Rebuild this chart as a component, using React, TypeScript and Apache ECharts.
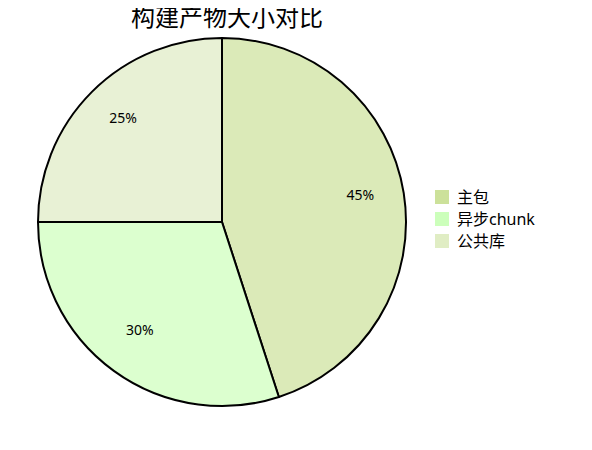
import React, { useEffect, useRef } from 'react';
import * as echarts from 'echarts';

const names = ['主包', '异步chunk', '公共库'];
const values = [45, 30, 25];
const legendColors = ['#cce19a', '#ccffbb', '#e0edc4'];
const sliceColors = ['#dbeab8', '#dcffcf', '#e8f1d5'];

const App = () => {
    const chartRef = useRef<HTMLDivElement>(null);

    useEffect(() => {
        const chartDom = chartRef.current;
        if (!chartDom) return;

        const myChart = echarts.init(chartDom, null, { renderer: 'svg' });
        const data = names.map((name, i) => ({
            name,
            value: values[i],
            itemStyle: { color: sliceColors[i] },
        }));

        const option = {
            animation: false,
            color: legendColors,
            textStyle: { fontFamily: '"Noto Sans", "Noto Sans CJK SC", sans-serif' },
            title: {
                text: '构建产物大小对比',
                left: 222,
                textAlign: 'center',
                top: -1,
                textStyle: { fontSize: 24, fontWeight: 'normal', color: '#000' },
            },
            legend: {
                orient: 'vertical',
                left: 430,
                top: 184,
                icon: 'rect',
                itemWidth: 14,
                itemHeight: 14,
                itemGap: 6,
                itemStyle: { borderWidth: 0 },
                textStyle: { fontSize: 16, color: '#000', padding: [0, 0, 0, 3] },
                data: names.map((name, i) => ({ name, itemStyle: { color: legendColors[i] } })),
            },
            series: [
                {
                    name: 'size',
                    type: 'pie',
                    center: [222, 222],
                    radius: 184,
                    startAngle: 90,
                    clockwise: true,
                    label: { show: false },
                    labelLine: { show: false },
                    itemStyle: { borderColor: '#000', borderWidth: 2 },
                    emphasis: { disabled: true },
                    data,
                },
                {
                    // transparent ring only used to place labels further out
                    name: 'labels',
                    type: 'pie',
                    center: [222, 222],
                    radius: [90, 184],
                    startAngle: 90,
                    silent: true,
                    itemStyle: { color: 'transparent', borderWidth: 0 },
                    label: {
                        show: true,
                        position: 'inside',
                        formatter: '{c}%',
                        fontSize: 14,
                        color: '#000',
                        offset: [0, -6],
                    },
                    labelLine: { show: false },
                    emphasis: { disabled: true },
                    data: names.map((name, i) => ({ name, value: values[i] })),
                },
            ],
        };

        myChart.setOption(option);

        return () => {
            myChart.dispose();
        };
    }, []);

    return <div ref={chartRef} style={{ width: '592px', height: '450px', margin: '-8px' }}></div>;
};

export default App;
